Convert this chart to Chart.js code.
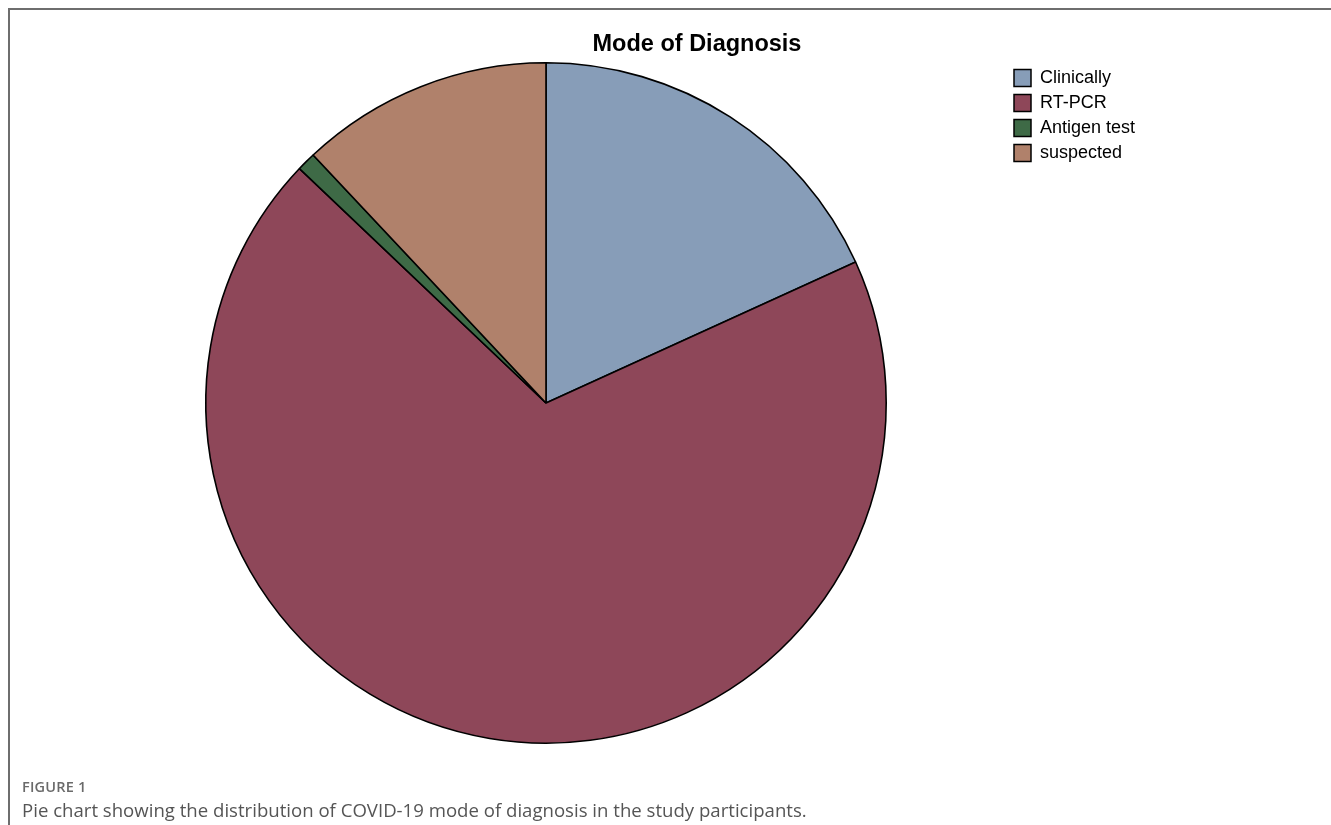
<!DOCTYPE html>
<html>
<head>
<meta charset="utf-8">
<script src="https://cdn.jsdelivr.net/npm/chart.js@4/dist/chart.umd.min.js"></script>
<style>
  html, body { margin: 0; padding: 0; background: #fff; }
  body { width: 1331px; height: 825px; position: relative; overflow: hidden; }
  #frame { position: absolute; left: 8px; top: 8px; width: 1323px; height: 817px;
           border-top: 2px solid #6e6e6e; border-left: 2px solid #6e6e6e; box-sizing: border-box; }
  #wrap { position: absolute; left: 0; top: 0; width: 1331px; height: 825px; }
  #title { position: absolute; left: 560px; width: 274px; top: 30px; text-align: center;
           font: bold 23.5px "Liberation Sans", Arial, sans-serif; color: #000; }
  #figlabel { position: absolute; left: 22px; top: 777px; font: 600 14.5px "Open Sans", sans-serif;
              color: #6a6a6a; letter-spacing: 0.2px; }
  #caption { position: absolute; left: 22px; top: 797px; font: 18.6px "Open Sans", sans-serif;
             color: #555; white-space: nowrap; }
</style>
</head>
<body>
<div id="frame"></div>
<div id="wrap"><canvas id="myChart" width="1331" height="825"></canvas></div>
<div id="title">Mode of Diagnosis</div>
<div id="figlabel">FIGURE 1</div>
<div id="caption">Pie chart showing the distribution of COVID-19 mode of diagnosis in the study participants.</div>
<script>
const categories = ["Clinically", "RT-PCR", "Antigen test", "suspected"]
const shares = [18.2, 68.9, 0.9, 12.0]
const sliceColors = ["#879db8", "#8e4759", "#3e6a46", "#b0816b"]

const myChart = new Chart(document.getElementById('myChart'), {
  type: 'pie',
  data: {
    labels: categories,
    datasets: [
      {
        label: "Mode of Diagnosis",
        data: shares,
        backgroundColor: sliceColors,
        borderColor: "#000",
        borderWidth: 1.6
      }
    ]
  },
  options: {
    responsive: false,
    animation: false,
    layout: {
      padding: { left: 85, top: 62, right: 194, bottom: 81 }
    },
    plugins: {
      tooltip: { enabled: false },
      legend: {
        position: 'right',
        align: 'start',
        maxWidth: 130,
        labels: {
          boxWidth: 17,
          boxHeight: 17,
          padding: 7,
          color: '#000',
          font: { family: '"Liberation Sans", Arial, sans-serif', size: 18 },
          generateLabels: (chart) => categories.map((c, i) => ({
            text: c,
            fillStyle: sliceColors[i],
            strokeStyle: '#000',
            lineWidth: 1.5,
            index: i
          }))
        }
      }
    }
  }
})
</script>
</body>
</html>
